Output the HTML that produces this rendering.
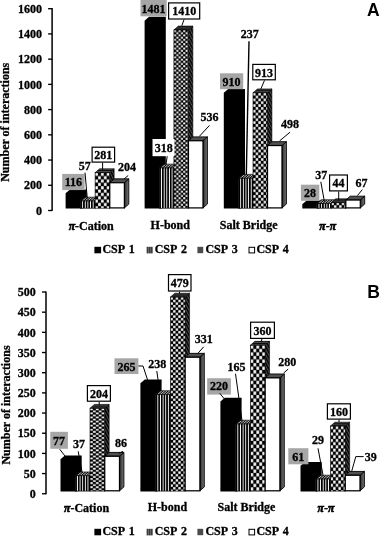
<!DOCTYPE html>
<html><head><meta charset="utf-8"><title>chart</title>
<style>html,body{margin:0;padding:0;background:#fff}svg{display:block}</style></head><body>
<svg width="380" height="538" viewBox="0 0 380 538">
<defs>
<pattern id="str" width="2.63" height="4" patternUnits="userSpaceOnUse"><rect width="2.63" height="4" fill="#fff"/><rect width="1.72" height="4" fill="#000"/></pattern>
<pattern id="strT" width="1.73" height="4" patternUnits="userSpaceOnUse" patternTransform="rotate(48.8)"><rect width="1.73" height="4" fill="#fff"/><rect width="1.1" height="4" fill="#000"/></pattern>
<pattern id="lg2" width="2.1" height="4" patternUnits="userSpaceOnUse"><rect width="2.1" height="4" fill="#777"/><rect width="1.2" height="4" fill="#3a3a3a"/></pattern>
<pattern id="sideC" width="2.6" height="3" patternUnits="userSpaceOnUse" patternTransform="rotate(-28)"><rect width="2.6" height="3" fill="#080808"/><rect width="0.45" height="3" fill="#999"/></pattern>
<pattern id="topC" width="4" height="1.9" patternUnits="userSpaceOnUse"><rect width="4" height="1.9" fill="#0a0a0a"/><rect width="4" height="0.45" fill="#999"/></pattern>
<linearGradient id="sideW" x1="0" x2="1" y1="0" y2="0"><stop offset="0" stop-color="#2a2a2a"/><stop offset="1" stop-color="#777"/></linearGradient>
<pattern id="chk0" width="5.8" height="6.7" patternUnits="userSpaceOnUse"><rect width="5.8" height="6.7" fill="#000"/><rect x="0.15" y="0.15" width="2.60" height="3.05" fill="#fff"/><rect x="3.05" y="3.50" width="2.60" height="3.05" fill="#fff"/></pattern>
<pattern id="chk1" width="4.6" height="4.4" patternUnits="userSpaceOnUse"><rect width="4.6" height="4.4" fill="#000"/><rect x="0.15" y="0.15" width="2.00" height="1.90" fill="#fff"/><rect x="2.45" y="2.35" width="2.00" height="1.90" fill="#fff"/></pattern>
<pattern id="chk2" width="5.26" height="5.68" patternUnits="userSpaceOnUse"><rect width="5.26" height="5.68" fill="#000"/><rect x="0.15" y="0.15" width="2.33" height="2.54" fill="#fff"/><rect x="2.78" y="2.99" width="2.33" height="2.54" fill="#fff"/></pattern>
<pattern id="chk3" width="5.2" height="5.2" patternUnits="userSpaceOnUse"><rect width="5.2" height="5.2" fill="#000"/><rect x="0.15" y="0.15" width="2.30" height="2.30" fill="#fff"/><rect x="2.75" y="2.75" width="2.30" height="2.30" fill="#fff"/></pattern>
<pattern id="chk4" width="5.8" height="4.1" patternUnits="userSpaceOnUse"><rect width="5.8" height="4.1" fill="#000"/><rect x="0.15" y="0.15" width="2.60" height="1.75" fill="#fff"/><rect x="3.05" y="2.20" width="2.60" height="1.75" fill="#fff"/></pattern>
<pattern id="chk5" width="5.9" height="7.1" patternUnits="userSpaceOnUse"><rect width="5.9" height="7.1" fill="#000"/><rect x="0.15" y="0.15" width="2.65" height="3.25" fill="#fff"/><rect x="3.10" y="3.70" width="2.65" height="3.25" fill="#fff"/></pattern>
<pattern id="chk6" width="5.2" height="6.4" patternUnits="userSpaceOnUse"><rect width="5.2" height="6.4" fill="#000"/><rect x="0.15" y="0.15" width="2.30" height="2.90" fill="#fff"/><rect x="2.75" y="3.35" width="2.30" height="2.90" fill="#fff"/></pattern>
<filter id="soft" x="0" y="0" width="380" height="538" filterUnits="userSpaceOnUse"><feGaussianBlur stdDeviation="0.25"/></filter>
</defs>
<g filter="url(#soft)"><rect width="380" height="538" fill="#fff"/>
<line x1="52.1" y1="8.10" x2="52.1" y2="211.10" stroke="#000" stroke-width="1.5"/>
<line x1="48.10" y1="210.50" x2="52.10" y2="210.50" stroke="#000" stroke-width="1.35"/>
<text x="41.90" y="214.70" text-anchor="end" font-family="Liberation Serif, serif" font-weight="bold" font-size="12" stroke="#000" stroke-width="0.3" >0</text>
<line x1="48.10" y1="185.28" x2="52.10" y2="185.28" stroke="#000" stroke-width="1.35"/>
<text x="41.90" y="189.47" text-anchor="end" font-family="Liberation Serif, serif" font-weight="bold" font-size="12" stroke="#000" stroke-width="0.3" >200</text>
<line x1="48.10" y1="160.05" x2="52.10" y2="160.05" stroke="#000" stroke-width="1.35"/>
<text x="41.90" y="164.25" text-anchor="end" font-family="Liberation Serif, serif" font-weight="bold" font-size="12" stroke="#000" stroke-width="0.3" >400</text>
<line x1="48.10" y1="134.82" x2="52.10" y2="134.82" stroke="#000" stroke-width="1.35"/>
<text x="41.90" y="139.02" text-anchor="end" font-family="Liberation Serif, serif" font-weight="bold" font-size="12" stroke="#000" stroke-width="0.3" >600</text>
<line x1="48.10" y1="109.60" x2="52.10" y2="109.60" stroke="#000" stroke-width="1.35"/>
<text x="41.90" y="113.80" text-anchor="end" font-family="Liberation Serif, serif" font-weight="bold" font-size="12" stroke="#000" stroke-width="0.3" >800</text>
<line x1="48.10" y1="84.37" x2="52.10" y2="84.37" stroke="#000" stroke-width="1.35"/>
<text x="41.90" y="88.57" text-anchor="end" font-family="Liberation Serif, serif" font-weight="bold" font-size="12" stroke="#000" stroke-width="0.3" >1000</text>
<line x1="48.10" y1="59.15" x2="52.10" y2="59.15" stroke="#000" stroke-width="1.35"/>
<text x="41.90" y="63.35" text-anchor="end" font-family="Liberation Serif, serif" font-weight="bold" font-size="12" stroke="#000" stroke-width="0.3" >1200</text>
<line x1="48.10" y1="33.92" x2="52.10" y2="33.92" stroke="#000" stroke-width="1.35"/>
<text x="41.90" y="38.12" text-anchor="end" font-family="Liberation Serif, serif" font-weight="bold" font-size="12" stroke="#000" stroke-width="0.3" >1400</text>
<line x1="48.10" y1="8.70" x2="52.10" y2="8.70" stroke="#000" stroke-width="1.35"/>
<text x="41.90" y="12.90" text-anchor="end" font-family="Liberation Serif, serif" font-weight="bold" font-size="12" stroke="#000" stroke-width="0.3" >1600</text>
<polygon points="65.60,208.50 65.60,193.23 70.00,189.38 86.80,189.38 86.80,204.65 82.40,208.50" fill="#000"/>
<polygon points="95.10,200.99 99.50,197.14 99.50,204.35 95.10,208.20" fill="#222" stroke="#000" stroke-width="0.6"/>
<g transform="translate(80.45,200.99)"><polygon points="0,0 4.40,-3.85 19.05,-3.85 14.65,0" fill="url(#strT)" stroke="#000" stroke-width="0.6"/></g>
<g transform="translate(80.45,0)"><rect x="0" y="200.99" width="14.65" height="7.21" fill="url(#str)" stroke="#000" stroke-width="0.6"/></g>
<polygon points="109.75,172.67 114.15,168.82 114.15,204.35 109.75,208.20" fill="url(#sideC)" stroke="#000" stroke-width="0.6"/>
<polygon points="95.10,172.67 99.50,168.82 114.15,168.82 109.75,172.67" fill="url(#topC)" stroke="#000" stroke-width="0.6"/>
<g transform="translate(95.10,172.67)"><rect x="0" y="0" width="14.65" height="35.53" fill="url(#chk0)" stroke="#000" stroke-width="0.6"/></g>
<polygon points="124.40,182.71 128.80,178.86 128.80,204.05 124.40,207.90" fill="url(#sideW)" stroke="#000" stroke-width="0.9"/>
<polygon points="109.75,182.71 114.15,178.86 128.80,178.86 124.40,182.71" fill="#505050" stroke="#000" stroke-width="0.9"/>
<rect x="109.75" y="182.71" width="14.65" height="25.19" fill="#fff" stroke="#000" stroke-width="1.25"/>
<polygon points="144.60,208.50 144.60,20.64 149.00,16.79 165.80,16.79 165.80,204.65 161.40,208.50" fill="#000"/>
<polygon points="173.90,167.99 178.30,164.14 178.30,204.35 173.90,208.20" fill="#222" stroke="#000" stroke-width="0.6"/>
<g transform="translate(159.35,167.99)"><polygon points="0,0 4.40,-3.85 18.95,-3.85 14.55,0" fill="url(#strT)" stroke="#000" stroke-width="0.6"/></g>
<g transform="translate(159.35,0)"><rect x="0" y="167.99" width="14.55" height="40.21" fill="url(#str)" stroke="#000" stroke-width="0.6"/></g>
<polygon points="188.45,29.92 192.85,26.07 192.85,204.35 188.45,208.20" fill="url(#sideC)" stroke="#000" stroke-width="0.6"/>
<polygon points="173.90,29.92 178.30,26.07 192.85,26.07 188.45,29.92" fill="url(#topC)" stroke="#000" stroke-width="0.6"/>
<g transform="translate(173.90,29.92)"><rect x="0" y="0" width="14.55" height="178.28" fill="url(#chk1)" stroke="#000" stroke-width="0.6"/></g>
<polygon points="203.00,140.73 207.40,136.88 207.40,204.05 203.00,207.90" fill="url(#sideW)" stroke="#000" stroke-width="0.9"/>
<polygon points="188.45,140.73 192.85,136.88 207.40,136.88 203.00,140.73" fill="#505050" stroke="#000" stroke-width="0.9"/>
<rect x="188.45" y="140.73" width="14.55" height="67.17" fill="#fff" stroke="#000" stroke-width="1.25"/>
<polygon points="223.80,208.50 223.80,92.84 228.20,88.99 245.00,88.99 245.00,204.65 240.60,208.50" fill="#000"/>
<polygon points="253.00,178.23 257.40,174.38 257.40,204.35 253.00,208.20" fill="#222" stroke="#000" stroke-width="0.6"/>
<g transform="translate(238.50,178.23)"><polygon points="0,0 4.40,-3.85 18.90,-3.85 14.50,0" fill="url(#strT)" stroke="#000" stroke-width="0.6"/></g>
<g transform="translate(238.50,0)"><rect x="0" y="178.23" width="14.50" height="29.97" fill="url(#str)" stroke="#000" stroke-width="0.6"/></g>
<polygon points="267.50,92.76 271.90,88.91 271.90,204.35 267.50,208.20" fill="url(#sideC)" stroke="#000" stroke-width="0.6"/>
<polygon points="253.00,92.76 257.40,88.91 271.90,88.91 267.50,92.76" fill="url(#topC)" stroke="#000" stroke-width="0.6"/>
<g transform="translate(253.00,92.76)"><rect x="0" y="0" width="14.50" height="115.44" fill="url(#chk2)" stroke="#000" stroke-width="0.6"/></g>
<polygon points="282.00,145.53 286.40,141.68 286.40,204.05 282.00,207.90" fill="url(#sideW)" stroke="#000" stroke-width="0.9"/>
<polygon points="267.50,145.53 271.90,141.68 286.40,141.68 282.00,145.53" fill="#505050" stroke="#000" stroke-width="0.9"/>
<rect x="267.50" y="145.53" width="14.50" height="62.37" fill="#fff" stroke="#000" stroke-width="1.25"/>
<polygon points="302.30,208.50 302.30,204.36 306.70,200.51 323.50,200.51 323.50,204.65 319.10,208.50" fill="#000"/>
<polygon points="331.30,203.52 335.70,199.67 335.70,204.35 331.30,208.20" fill="#222" stroke="#000" stroke-width="0.6"/>
<g transform="translate(316.80,203.52)"><polygon points="0,0 4.40,-3.85 18.90,-3.85 14.50,0" fill="url(#strT)" stroke="#000" stroke-width="0.6"/></g>
<g transform="translate(316.80,0)"><rect x="0" y="203.52" width="14.50" height="4.68" fill="url(#str)" stroke="#000" stroke-width="0.6"/></g>
<polygon points="345.80,202.64 350.20,198.79 350.20,204.35 345.80,208.20" fill="url(#sideC)" stroke="#000" stroke-width="0.6"/>
<polygon points="331.30,202.64 335.70,198.79 350.20,198.79 345.80,202.64" fill="url(#topC)" stroke="#000" stroke-width="0.6"/>
<g transform="translate(331.30,202.64)"><rect x="0" y="0" width="14.50" height="5.56" fill="url(#chk3)" stroke="#000" stroke-width="0.6"/></g>
<polygon points="360.30,200.03 364.70,196.18 364.70,204.05 360.30,207.90" fill="url(#sideW)" stroke="#000" stroke-width="0.9"/>
<polygon points="345.80,200.03 350.20,196.18 364.70,196.18 360.30,200.03" fill="#505050" stroke="#000" stroke-width="0.9"/>
<rect x="345.80" y="200.03" width="14.50" height="7.87" fill="#fff" stroke="#000" stroke-width="1.25"/>
<text x="91.20" y="229.60" text-anchor="middle" font-family="Liberation Serif, serif" font-weight="bold" font-size="12" stroke="#000" stroke-width="0.3" ><tspan font-style="italic" font-size="11.7" stroke-width="0.6">π</tspan>-Cation</text>
<text x="170.30" y="228.90" text-anchor="middle" font-family="Liberation Serif, serif" font-weight="bold" font-size="12" stroke="#000" stroke-width="0.3" >H-bond</text>
<text x="248.70" y="229.10" text-anchor="middle" font-family="Liberation Serif, serif" font-weight="bold" font-size="12" stroke="#000" stroke-width="0.3" >Salt Bridge</text>
<text x="327.70" y="229.50" text-anchor="middle" font-family="Liberation Serif, serif" font-weight="bold" font-size="12" stroke="#000" stroke-width="0.3" ><tspan font-style="italic" font-size="11.7" stroke-width="0.6">π</tspan>-<tspan font-style="italic" font-size="11.7" stroke-width="0.6">π</tspan></text>
<text transform="translate(9.2,122.3) rotate(-90)" text-anchor="middle" font-family="Liberation Serif, serif" font-weight="bold" font-size="12" stroke="#000" stroke-width="0.3">Number of interactions</text>
<text x="373.3" y="15.8" text-anchor="middle" font-family="Liberation Sans, sans-serif" font-weight="bold" font-size="17.5">A</text>
<rect x="62.20" y="173.90" width="22.40" height="16.20" fill="#a6a6a6"/>
<text x="73.40" y="185.90" text-anchor="middle" font-family="Liberation Serif, serif" font-weight="bold" font-size="12" stroke="#000" stroke-width="0.3" >116</text>
<polyline points="85.00,172.60 87.30,198.50" fill="none" stroke="#000" stroke-width="1.0"/>
<text x="84.70" y="169.70" text-anchor="middle" font-family="Liberation Serif, serif" font-weight="bold" font-size="12" stroke="#000" stroke-width="0.3" >57</text>
<rect x="92.10" y="147.20" width="22.50" height="14.90" fill="#fff" stroke="#000" stroke-width="1.2"/>
<text x="103.35" y="159.05" text-anchor="middle" font-family="Liberation Serif, serif" font-weight="bold" font-size="12" stroke="#000" stroke-width="0.3" >281</text>
<polyline points="102.60,162.50 102.60,169.60" fill="none" stroke="#000" stroke-width="1.0"/>
<text x="127.00" y="170.80" text-anchor="middle" font-family="Liberation Serif, serif" font-weight="bold" font-size="12" stroke="#000" stroke-width="0.3" >204</text>
<polyline points="128.20,175.50 124.00,179.00" fill="none" stroke="#000" stroke-width="1.0"/>
<rect x="140.50" y="0.00" width="26.20" height="16.30" fill="#a6a6a6"/>
<text x="153.60" y="12.85" text-anchor="middle" font-family="Liberation Serif, serif" font-weight="bold" font-size="12" stroke="#000" stroke-width="0.3" >1481</text>
<rect x="168.60" y="2.90" width="31.10" height="16.10" fill="#fff" stroke="#000" stroke-width="1.2"/>
<text x="184.15" y="15.35" text-anchor="middle" font-family="Liberation Serif, serif" font-weight="bold" font-size="12" stroke="#000" stroke-width="0.3" >1410</text>
<polyline points="184.00,19.60 181.80,25.80" fill="none" stroke="#000" stroke-width="1.0"/>
<rect x="152.5" y="139" width="22" height="17.2" fill="#fff"/>
<text x="163.70" y="151.60" text-anchor="middle" font-family="Liberation Serif, serif" font-weight="bold" font-size="12" stroke="#000" stroke-width="0.3" >318</text>
<polyline points="167.20,156.20 166.00,164.50" fill="none" stroke="#000" stroke-width="1.0"/>
<text x="209.50" y="120.80" text-anchor="middle" font-family="Liberation Serif, serif" font-weight="bold" font-size="12" stroke="#000" stroke-width="0.3" >536</text>
<polyline points="209.50,125.40 199.30,136.40" fill="none" stroke="#000" stroke-width="1.0"/>
<rect x="220.00" y="73.30" width="23.20" height="15.90" fill="#a6a6a6"/>
<text x="231.60" y="85.65" text-anchor="middle" font-family="Liberation Serif, serif" font-weight="bold" font-size="12" stroke="#000" stroke-width="0.3" >910</text>
<text x="249.70" y="37.80" text-anchor="middle" font-family="Liberation Serif, serif" font-weight="bold" font-size="12" stroke="#000" stroke-width="0.3" >237</text>
<polyline points="249.00,41.30 246.30,175.00" fill="none" stroke="#000" stroke-width="1.4"/>
<rect x="252.80" y="64.40" width="22.50" height="15.40" fill="#fff" stroke="#000" stroke-width="1.2"/>
<text x="264.05" y="76.50" text-anchor="middle" font-family="Liberation Serif, serif" font-weight="bold" font-size="12" stroke="#000" stroke-width="0.3" >913</text>
<polyline points="264.50,80.40 260.80,89.00" fill="none" stroke="#000" stroke-width="1.0"/>
<text x="290.10" y="127.60" text-anchor="middle" font-family="Liberation Serif, serif" font-weight="bold" font-size="12" stroke="#000" stroke-width="0.3" >498</text>
<polyline points="290.00,132.20 279.60,140.90" fill="none" stroke="#000" stroke-width="1.0"/>
<rect x="300.90" y="184.70" width="18.40" height="16.10" fill="#a6a6a6"/>
<text x="310.10" y="197.15" text-anchor="middle" font-family="Liberation Serif, serif" font-weight="bold" font-size="12" stroke="#000" stroke-width="0.3" >28</text>
<text x="321.20" y="179.40" text-anchor="middle" font-family="Liberation Serif, serif" font-weight="bold" font-size="12" stroke="#000" stroke-width="0.3" >37</text>
<polyline points="320.80,181.80 324.40,201.50" fill="none" stroke="#000" stroke-width="1.0"/>
<rect x="329.60" y="175.00" width="17.80" height="15.90" fill="#fff" stroke="#000" stroke-width="1.2"/>
<text x="338.50" y="187.35" text-anchor="middle" font-family="Liberation Serif, serif" font-weight="bold" font-size="12" stroke="#000" stroke-width="0.3" >44</text>
<polyline points="338.70,191.50 338.70,200.50" fill="none" stroke="#000" stroke-width="1.0"/>
<text x="361.50" y="186.50" text-anchor="middle" font-family="Liberation Serif, serif" font-weight="bold" font-size="12" stroke="#000" stroke-width="0.3" >67</text>
<polyline points="362.30,189.60 357.50,195.50" fill="none" stroke="#000" stroke-width="1.0"/>
<rect x="94.4" y="246.8" width="6.7" height="6.5" fill="#000"/>
<text x="102.40" y="253.40" text-anchor="start" font-family="Liberation Serif, serif" font-weight="bold" font-size="12" stroke="#000" stroke-width="0.3" word-spacing="1.4">CSP 1</text>
<rect x="146.5" y="246.8" width="6.3" height="6.6" fill="url(#lg2)"/>
<text x="154.70" y="253.40" text-anchor="start" font-family="Liberation Serif, serif" font-weight="bold" font-size="12" stroke="#000" stroke-width="0.3" word-spacing="1.4">CSP 2</text>
<rect x="197.4" y="246.8" width="5.8" height="6.4" fill="#4c4c4c"/>
<text x="205.40" y="253.40" text-anchor="start" font-family="Liberation Serif, serif" font-weight="bold" font-size="12" stroke="#000" stroke-width="0.3" word-spacing="1.4">CSP 3</text>
<rect x="249.0" y="247.3" width="5.6" height="5.6" fill="#fff" stroke="#000" stroke-width="1"/>
<text x="256.40" y="253.40" text-anchor="start" font-family="Liberation Serif, serif" font-weight="bold" font-size="12" stroke="#000" stroke-width="0.3" word-spacing="1.4">CSP 4</text>
<line x1="46.0" y1="291.40" x2="46.0" y2="494.35" stroke="#000" stroke-width="1.5"/>
<line x1="42.00" y1="493.75" x2="46.00" y2="493.75" stroke="#000" stroke-width="1.35"/>
<text x="35.80" y="497.95" text-anchor="end" font-family="Liberation Serif, serif" font-weight="bold" font-size="12" stroke="#000" stroke-width="0.3" >0</text>
<line x1="42.00" y1="473.57" x2="46.00" y2="473.57" stroke="#000" stroke-width="1.35"/>
<text x="35.80" y="477.77" text-anchor="end" font-family="Liberation Serif, serif" font-weight="bold" font-size="12" stroke="#000" stroke-width="0.3" >50</text>
<line x1="42.00" y1="453.40" x2="46.00" y2="453.40" stroke="#000" stroke-width="1.35"/>
<text x="35.80" y="457.60" text-anchor="end" font-family="Liberation Serif, serif" font-weight="bold" font-size="12" stroke="#000" stroke-width="0.3" >100</text>
<line x1="42.00" y1="433.23" x2="46.00" y2="433.23" stroke="#000" stroke-width="1.35"/>
<text x="35.80" y="437.43" text-anchor="end" font-family="Liberation Serif, serif" font-weight="bold" font-size="12" stroke="#000" stroke-width="0.3" >150</text>
<line x1="42.00" y1="413.05" x2="46.00" y2="413.05" stroke="#000" stroke-width="1.35"/>
<text x="35.80" y="417.25" text-anchor="end" font-family="Liberation Serif, serif" font-weight="bold" font-size="12" stroke="#000" stroke-width="0.3" >200</text>
<line x1="42.00" y1="392.88" x2="46.00" y2="392.88" stroke="#000" stroke-width="1.35"/>
<text x="35.80" y="397.07" text-anchor="end" font-family="Liberation Serif, serif" font-weight="bold" font-size="12" stroke="#000" stroke-width="0.3" >250</text>
<line x1="42.00" y1="372.70" x2="46.00" y2="372.70" stroke="#000" stroke-width="1.35"/>
<text x="35.80" y="376.90" text-anchor="end" font-family="Liberation Serif, serif" font-weight="bold" font-size="12" stroke="#000" stroke-width="0.3" >300</text>
<line x1="42.00" y1="352.52" x2="46.00" y2="352.52" stroke="#000" stroke-width="1.35"/>
<text x="35.80" y="356.72" text-anchor="end" font-family="Liberation Serif, serif" font-weight="bold" font-size="12" stroke="#000" stroke-width="0.3" >350</text>
<line x1="42.00" y1="332.35" x2="46.00" y2="332.35" stroke="#000" stroke-width="1.35"/>
<text x="35.80" y="336.55" text-anchor="end" font-family="Liberation Serif, serif" font-weight="bold" font-size="12" stroke="#000" stroke-width="0.3" >400</text>
<line x1="42.00" y1="312.17" x2="46.00" y2="312.17" stroke="#000" stroke-width="1.35"/>
<text x="35.80" y="316.37" text-anchor="end" font-family="Liberation Serif, serif" font-weight="bold" font-size="12" stroke="#000" stroke-width="0.3" >450</text>
<line x1="42.00" y1="292.00" x2="46.00" y2="292.00" stroke="#000" stroke-width="1.35"/>
<text x="35.80" y="296.20" text-anchor="end" font-family="Liberation Serif, serif" font-weight="bold" font-size="12" stroke="#000" stroke-width="0.3" >500</text>
<polygon points="60.50,491.40 60.50,459.31 64.90,455.46 81.70,455.46 81.70,487.55 77.30,491.40" fill="#000"/>
<polygon points="90.00,475.78 94.40,471.93 94.40,487.25 90.00,491.10" fill="#222" stroke="#000" stroke-width="0.6"/>
<g transform="translate(75.25,475.78)"><polygon points="0,0 4.40,-3.85 19.15,-3.85 14.75,0" fill="url(#strT)" stroke="#000" stroke-width="0.6"/></g>
<g transform="translate(75.25,0)"><rect x="0" y="475.78" width="14.75" height="15.32" fill="url(#str)" stroke="#000" stroke-width="0.6"/></g>
<polygon points="104.75,408.27 109.15,404.42 109.15,487.25 104.75,491.10" fill="url(#sideC)" stroke="#000" stroke-width="0.6"/>
<polygon points="90.00,408.27 94.40,404.42 109.15,404.42 104.75,408.27" fill="url(#topC)" stroke="#000" stroke-width="0.6"/>
<g transform="translate(90.00,408.27)"><rect x="0" y="0" width="14.75" height="82.83" fill="url(#chk4)" stroke="#000" stroke-width="0.6"/></g>
<polygon points="119.50,456.27 123.90,452.42 123.90,486.95 119.50,490.80" fill="url(#sideW)" stroke="#000" stroke-width="0.9"/>
<polygon points="104.75,456.27 109.15,452.42 123.90,452.42 119.50,456.27" fill="#505050" stroke="#000" stroke-width="0.9"/>
<rect x="104.75" y="456.27" width="14.75" height="34.53" fill="#fff" stroke="#000" stroke-width="1.25"/>
<polygon points="140.40,491.40 140.40,383.31 144.80,379.46 161.60,379.46 161.60,487.55 157.20,491.40" fill="#000"/>
<polygon points="170.40,394.52 174.80,390.67 174.80,487.25 170.40,491.10" fill="#222" stroke="#000" stroke-width="0.6"/>
<g transform="translate(155.65,394.52)"><polygon points="0,0 4.40,-3.85 19.15,-3.85 14.75,0" fill="url(#strT)" stroke="#000" stroke-width="0.6"/></g>
<g transform="translate(155.65,0)"><rect x="0" y="394.52" width="14.75" height="96.58" fill="url(#str)" stroke="#000" stroke-width="0.6"/></g>
<polygon points="185.15,297.09 189.55,293.24 189.55,487.25 185.15,491.10" fill="url(#sideC)" stroke="#000" stroke-width="0.6"/>
<polygon points="170.40,297.09 174.80,293.24 189.55,293.24 185.15,297.09" fill="url(#topC)" stroke="#000" stroke-width="0.6"/>
<g transform="translate(170.40,297.09)"><rect x="0" y="0" width="14.75" height="194.01" fill="url(#chk3)" stroke="#000" stroke-width="0.6"/></g>
<polygon points="199.90,357.22 204.30,353.37 204.30,486.95 199.90,490.80" fill="url(#sideW)" stroke="#000" stroke-width="0.9"/>
<polygon points="185.15,357.22 189.55,353.37 204.30,353.37 199.90,357.22" fill="#505050" stroke="#000" stroke-width="0.9"/>
<rect x="185.15" y="357.22" width="14.75" height="133.58" fill="#fff" stroke="#000" stroke-width="1.25"/>
<polygon points="220.40,491.40 220.40,401.50 224.80,397.65 241.60,397.65 241.60,487.55 237.20,491.40" fill="#000"/>
<polygon points="250.40,424.03 254.80,420.18 254.80,487.25 250.40,491.10" fill="#222" stroke="#000" stroke-width="0.6"/>
<g transform="translate(235.65,424.03)"><polygon points="0,0 4.40,-3.85 19.15,-3.85 14.75,0" fill="url(#strT)" stroke="#000" stroke-width="0.6"/></g>
<g transform="translate(235.65,0)"><rect x="0" y="424.03" width="14.75" height="67.07" fill="url(#str)" stroke="#000" stroke-width="0.6"/></g>
<polygon points="265.15,345.20 269.55,341.35 269.55,487.25 265.15,491.10" fill="url(#sideC)" stroke="#000" stroke-width="0.6"/>
<polygon points="250.40,345.20 254.80,341.35 269.55,341.35 265.15,345.20" fill="url(#topC)" stroke="#000" stroke-width="0.6"/>
<g transform="translate(250.40,345.20)"><rect x="0" y="0" width="14.75" height="145.90" fill="url(#chk5)" stroke="#000" stroke-width="0.6"/></g>
<polygon points="279.90,377.84 284.30,373.99 284.30,486.95 279.90,490.80" fill="url(#sideW)" stroke="#000" stroke-width="0.9"/>
<polygon points="265.15,377.84 269.55,373.99 284.30,373.99 279.90,377.84" fill="#505050" stroke="#000" stroke-width="0.9"/>
<rect x="265.15" y="377.84" width="14.75" height="112.96" fill="#fff" stroke="#000" stroke-width="1.25"/>
<polygon points="300.50,491.40 300.50,465.78 304.90,461.93 321.70,461.93 321.70,487.55 317.30,491.40" fill="#000"/>
<polygon points="330.50,479.02 334.90,475.17 334.90,487.25 330.50,491.10" fill="#222" stroke="#000" stroke-width="0.6"/>
<g transform="translate(315.75,479.02)"><polygon points="0,0 4.40,-3.85 19.15,-3.85 14.75,0" fill="url(#strT)" stroke="#000" stroke-width="0.6"/></g>
<g transform="translate(315.75,0)"><rect x="0" y="479.02" width="14.75" height="12.08" fill="url(#str)" stroke="#000" stroke-width="0.6"/></g>
<polygon points="345.25,426.06 349.65,422.21 349.65,487.25 345.25,491.10" fill="url(#sideC)" stroke="#000" stroke-width="0.6"/>
<polygon points="330.50,426.06 334.90,422.21 349.65,422.21 345.25,426.06" fill="url(#topC)" stroke="#000" stroke-width="0.6"/>
<g transform="translate(330.50,426.06)"><rect x="0" y="0" width="14.75" height="65.04" fill="url(#chk6)" stroke="#000" stroke-width="0.6"/></g>
<polygon points="360.00,475.27 364.40,471.42 364.40,486.95 360.00,490.80" fill="url(#sideW)" stroke="#000" stroke-width="0.9"/>
<polygon points="345.25,475.27 349.65,471.42 364.40,471.42 360.00,475.27" fill="#505050" stroke="#000" stroke-width="0.9"/>
<rect x="345.25" y="475.27" width="14.75" height="15.53" fill="#fff" stroke="#000" stroke-width="1.25"/>
<text x="86.60" y="512.10" text-anchor="middle" font-family="Liberation Serif, serif" font-weight="bold" font-size="12" stroke="#000" stroke-width="0.3" ><tspan font-style="italic" font-size="11.7" stroke-width="0.6">π</tspan>-Cation</text>
<text x="167.40" y="511.00" text-anchor="middle" font-family="Liberation Serif, serif" font-weight="bold" font-size="12" stroke="#000" stroke-width="0.3" >H-bond</text>
<text x="246.40" y="511.20" text-anchor="middle" font-family="Liberation Serif, serif" font-weight="bold" font-size="12" stroke="#000" stroke-width="0.3" >Salt Bridge</text>
<text x="326.00" y="512.10" text-anchor="middle" font-family="Liberation Serif, serif" font-weight="bold" font-size="12" stroke="#000" stroke-width="0.3" ><tspan font-style="italic" font-size="11.7" stroke-width="0.6">π</tspan>-<tspan font-style="italic" font-size="11.7" stroke-width="0.6">π</tspan></text>
<text transform="translate(9.6,405) rotate(-90)" text-anchor="middle" font-family="Liberation Serif, serif" font-weight="bold" font-size="12" stroke="#000" stroke-width="0.3">Number of interactions</text>
<text x="373.5" y="298.2" text-anchor="middle" font-family="Liberation Sans, sans-serif" font-weight="bold" font-size="17.5">B</text>
<rect x="50.30" y="431.80" width="17.60" height="17.00" fill="#a6a6a6"/>
<text x="59.10" y="444.70" text-anchor="middle" font-family="Liberation Serif, serif" font-weight="bold" font-size="12" stroke="#000" stroke-width="0.3" >77</text>
<polyline points="59.70,449.20 65.00,456.00" fill="none" stroke="#000" stroke-width="1.0"/>
<text x="79.10" y="447.60" text-anchor="middle" font-family="Liberation Serif, serif" font-weight="bold" font-size="12" stroke="#000" stroke-width="0.3" >37</text>
<polyline points="78.20,451.30 82.10,472.40" fill="none" stroke="#000" stroke-width="1.0"/>
<text x="120.90" y="446.80" text-anchor="middle" font-family="Liberation Serif, serif" font-weight="bold" font-size="12" stroke="#000" stroke-width="0.3" >86</text>
<polyline points="122.90,451.30 118.90,453.40" fill="none" stroke="#000" stroke-width="1.0"/>
<rect x="87.40" y="385.60" width="23.00" height="15.60" fill="#fff" stroke="#000" stroke-width="1.2"/>
<text x="98.90" y="397.80" text-anchor="middle" font-family="Liberation Serif, serif" font-weight="bold" font-size="12" stroke="#000" stroke-width="0.3" >204</text>
<polyline points="99.20,401.80 99.20,405.30" fill="none" stroke="#000" stroke-width="1.0"/>
<rect x="114.50" y="358.30" width="23.90" height="15.70" fill="#a6a6a6"/>
<text x="126.45" y="370.55" text-anchor="middle" font-family="Liberation Serif, serif" font-weight="bold" font-size="12" stroke="#000" stroke-width="0.3" >265</text>
<polyline points="138.40,366.00 143.00,366.00 147.60,380.00" fill="none" stroke="#000" stroke-width="1.0"/>
<text x="157.20" y="367.70" text-anchor="middle" font-family="Liberation Serif, serif" font-weight="bold" font-size="12" stroke="#000" stroke-width="0.3" >238</text>
<polyline points="156.80,371.00 159.50,390.00" fill="none" stroke="#000" stroke-width="1.0"/>
<rect x="168.50" y="274.60" width="22.50" height="16.40" fill="#fff" stroke="#000" stroke-width="1.2"/>
<text x="179.75" y="287.20" text-anchor="middle" font-family="Liberation Serif, serif" font-weight="bold" font-size="12" stroke="#000" stroke-width="0.3" >479</text>
<polyline points="179.50,291.60 179.50,293.50" fill="none" stroke="#000" stroke-width="1.0"/>
<text x="203.80" y="342.90" text-anchor="middle" font-family="Liberation Serif, serif" font-weight="bold" font-size="12" stroke="#000" stroke-width="0.3" >331</text>
<polyline points="203.70,346.80 197.60,353.70" fill="none" stroke="#000" stroke-width="1.0"/>
<rect x="207.20" y="378.20" width="23.70" height="16.40" fill="#a6a6a6"/>
<text x="219.05" y="390.40" text-anchor="middle" font-family="Liberation Serif, serif" font-weight="bold" font-size="12" stroke="#000" stroke-width="0.3" >220</text>
<polyline points="219.70,393.20 225.00,399.70" fill="none" stroke="#000" stroke-width="1.0"/>
<text x="236.40" y="370.50" text-anchor="middle" font-family="Liberation Serif, serif" font-weight="bold" font-size="12" stroke="#000" stroke-width="0.3" >165</text>
<polyline points="235.50,373.70 242.00,420.80" fill="none" stroke="#000" stroke-width="1.0"/>
<rect x="250.60" y="322.20" width="23.80" height="16.20" fill="#fff" stroke="#000" stroke-width="1.2"/>
<text x="262.50" y="334.70" text-anchor="middle" font-family="Liberation Serif, serif" font-weight="bold" font-size="12" stroke="#000" stroke-width="0.3" >360</text>
<polyline points="262.00,339.00 261.00,341.60" fill="none" stroke="#000" stroke-width="1.0"/>
<text x="287.20" y="366.30" text-anchor="middle" font-family="Liberation Serif, serif" font-weight="bold" font-size="12" stroke="#000" stroke-width="0.3" >280</text>
<polyline points="288.20,369.00 283.70,373.00" fill="none" stroke="#000" stroke-width="1.0"/>
<rect x="288.30" y="448.20" width="20.10" height="16.10" fill="#a6a6a6"/>
<text x="298.35" y="460.65" text-anchor="middle" font-family="Liberation Serif, serif" font-weight="bold" font-size="12" stroke="#000" stroke-width="0.3" >61</text>
<text x="318.10" y="444.20" text-anchor="middle" font-family="Liberation Serif, serif" font-weight="bold" font-size="12" stroke="#000" stroke-width="0.3" >29</text>
<polyline points="318.00,448.30 323.20,476.00" fill="none" stroke="#000" stroke-width="1.0"/>
<rect x="327.40" y="403.80" width="23.00" height="15.30" fill="#fff" stroke="#000" stroke-width="1.2"/>
<text x="338.90" y="415.85" text-anchor="middle" font-family="Liberation Serif, serif" font-weight="bold" font-size="12" stroke="#000" stroke-width="0.3" >160</text>
<polyline points="339.00,419.70 339.00,422.00" fill="none" stroke="#000" stroke-width="1.0"/>
<text x="370.70" y="460.50" text-anchor="middle" font-family="Liberation Serif, serif" font-weight="bold" font-size="12" stroke="#000" stroke-width="0.3" >39</text>
<polyline points="363.70,456.60 355.80,456.60 351.60,471.60" fill="none" stroke="#000" stroke-width="1.0"/>
<rect x="94.4" y="528.8" width="6.7" height="6.5" fill="#000"/>
<text x="102.40" y="535.40" text-anchor="start" font-family="Liberation Serif, serif" font-weight="bold" font-size="12" stroke="#000" stroke-width="0.3" word-spacing="1.4">CSP 1</text>
<rect x="146.5" y="528.8" width="6.3" height="6.6" fill="url(#lg2)"/>
<text x="154.70" y="535.40" text-anchor="start" font-family="Liberation Serif, serif" font-weight="bold" font-size="12" stroke="#000" stroke-width="0.3" word-spacing="1.4">CSP 2</text>
<rect x="197.4" y="528.8" width="5.8" height="6.4" fill="#4c4c4c"/>
<text x="205.40" y="535.40" text-anchor="start" font-family="Liberation Serif, serif" font-weight="bold" font-size="12" stroke="#000" stroke-width="0.3" word-spacing="1.4">CSP 3</text>
<rect x="249.0" y="529.3" width="5.6" height="5.6" fill="#fff" stroke="#000" stroke-width="1"/>
<text x="256.40" y="535.40" text-anchor="start" font-family="Liberation Serif, serif" font-weight="bold" font-size="12" stroke="#000" stroke-width="0.3" word-spacing="1.4">CSP 4</text>
</g></svg></body></html>
